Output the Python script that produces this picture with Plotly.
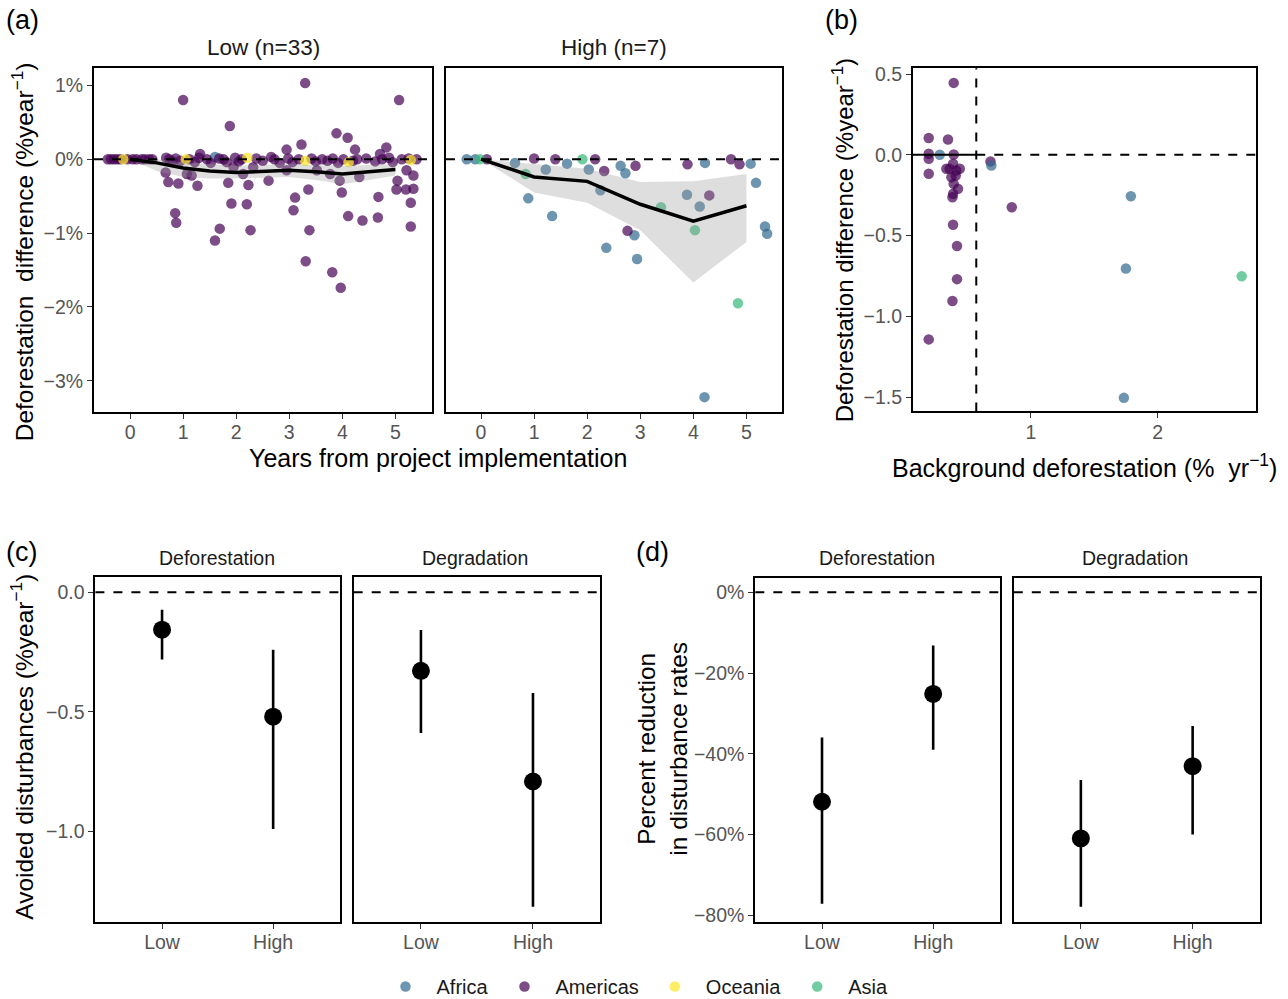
import numpy as np
import plotly.graph_objects as go

FONT = "Liberation Sans, Arial, sans-serif"
W, H = 1288, 999          # reference picture size
FIG_H = 1006              # page height that ends up in the 999-px photo

# ---- colours (viridis, 4 levels) ----
continents = ["Africa", "Americas", "Oceania", "Asia"]
colors = {"Africa": "#31688E", "Americas": "#440154", "Oceania": "#FDE725", "Asia": "#35B779"}

# ---- (a) Low (n=33): years from implementation vs deforestation difference (%/yr) ----
low_americas_x = [-0.42, -0.36, -0.30, -0.24, -0.18, -0.05, 0.05, 0.12, 0.22, 0.28, 0.36, 0.42,
                  0.68, 0.74, 0.80, 0.86, 0.95, 1.12, 1.22, 1.30, 1.45, 1.52, 1.68, 1.76, 1.82,
                  1.98, 2.05, 2.10, 2.38, 2.50, 2.66, 2.72, 2.82, 2.98, 3.06, 3.18, 3.42, 3.50,
                  3.62, 3.72, 3.82, 3.92, 4.02, 4.20, 4.28, 4.45, 4.62, 4.75, 4.88, 4.95, 5.12,
                  5.25, 5.40,
                  1.00, 1.88, 3.30, 5.07, 3.89, 4.10, 3.23, 2.95, 4.24, 4.83, 4.71, 1.32, 0.67,
                  0.72, 0.91, 0.85, 0.87, 1.07, 1.16, 1.27, 1.60, 1.69, 1.85, 1.91, 2.20, 2.23,
                  2.27, 2.13, 2.61, 3.11, 3.08, 3.36, 3.31, 3.38, 3.81, 3.97, 3.99, 4.11, 4.38,
                  4.68, 4.67, 5.04, 5.02, 5.20, 5.34, 5.34, 5.29, 5.29, 5.21, 3.95, 3.77, 4.32,
                  3.52, 2.95, 2.32, 1.95]
low_americas_y = [0.00, 0.00, 0.00, 0.00, 0.00, 0.00, 0.00, 0.00, 0.00, 0.00, 0.00, 0.00,
                  0.02, 0.00, -0.03, 0.01, -0.02, 0.00, -0.04, 0.02, 0.00, -0.05, 0.01, 0.00, -0.04,
                  0.02, -0.03, 0.00, 0.01, -0.02, 0.03, 0.00, -0.05, 0.01, -0.04, 0.00, 0.01, -0.03,
                  0.00, -0.02, 0.01, -0.05, 0.00, -0.02, 0.00, 0.01, -0.03, 0.00, 0.02, -0.04, 0.00,
                  0.01, 0.00,
                  0.80, 0.45, 1.03, 0.80, 0.35, 0.29, 0.20, 0.13, 0.13, 0.16, 0.07, 0.07, -0.18,
                  -0.31, -0.33, -0.73, -0.86, -0.20, -0.22, -0.36, -1.10, -0.94, -0.32, -0.60, -0.61, -0.35,
                  -0.96, -0.20, -0.29, -0.52, -0.69, -0.41, -1.38, -0.96, -1.53, -1.74, -0.45, -0.77, -0.83,
                  -0.51, -0.79, -0.29, -0.41, -0.41, -0.40, -0.22, -0.59, -0.91, -0.15, -0.29, -0.20, -0.24,
                  -0.15, -0.15, -0.11, -0.11]
low_oceania_x = [-0.13, 1.05, 2.21, 3.30, 4.12, 5.29]
low_oceania_y = [0.00, 0.00, 0.02, -0.02, -0.04, -0.01]
low_africa_x = [1.60]
low_africa_y = [0.03]

low_trend_x = [0, 0.5, 1, 1.5, 2, 2.5, 3, 3.5, 4, 4.5, 5]
low_trend_y = [0, -0.05, -0.12, -0.16, -0.18, -0.17, -0.15, -0.17, -0.20, -0.17, -0.14]
low_trend_lo = [0, -0.16, -0.24, -0.26, -0.26, -0.25, -0.24, -0.28, -0.34, -0.28, -0.22]
low_trend_hi = [0, 0.0, -0.04, -0.07, -0.09, -0.08, -0.07, -0.08, -0.09, -0.08, -0.07]

# ---- (a) High (n=7) ----
high_africa_x = [-0.27, -0.11, 0.64, 1.22, 0.89, 1.34, 1.62, 2.03, 2.25, 2.36, 2.63, 2.72, 2.89,
                 2.94, 3.88, 4.12, 4.22, 4.21, 5.08, 5.18, 5.35, 5.39]
high_africa_y = [0.00, 0.00, -0.05, -0.14, -0.53, -0.77, -0.06, -0.14, -0.42, -1.20, -0.09, -0.19,
                 -1.03, -1.35, -0.48, -0.64, -0.05, -3.22, -0.06, -0.32, -0.91, -1.01]
high_americas_x = [0.11, 1.00, 1.40, 2.15, 2.32, 2.91, 2.76, 3.89, 4.30, 4.71, 4.87]
high_americas_y = [0.00, 0.01, 0.00, 0.00, -0.16, -0.09, -0.97, -0.07, -0.49, 0.00, -0.07]
high_asia_x = [-0.02, 0.84, 1.91, 3.39, 4.03, 4.84]
high_asia_y = [0.00, -0.20, 0.00, -0.65, -0.96, -1.95]

high_trend_x = [0, 1, 2, 3, 4, 5]
high_trend_y = [0, -0.24, -0.30, -0.61, -0.84, -0.63]
high_trend_lo = [0, -0.45, -0.59, -0.96, -1.67, -1.12]
high_trend_hi = [0, -0.06, -0.13, -0.31, -0.30, -0.20]

a_yticks = [-3, -2, -1, 0, 1]
a_yticklabels = ["\u22123%", "\u22122%", "\u22121%", "0%", "1%"]
a_xticks = [0, 1, 2, 3, 4, 5]

# ---- (b) background deforestation vs deforestation difference ----
bg_americas_x = [0.392, 0.195, 0.347, 0.195, 0.195, 0.195, 0.392, 0.360, 0.387, 0.413, 0.440,
                 0.374, 0.408, 0.392, 0.426, 0.387, 0.382, 0.387, 0.418, 0.418, 0.382, 0.195,
                 0.850, 0.682, 0.334]
bg_americas_y = [0.445, 0.104, 0.095, 0.006, -0.025, -0.118, 0.002, -0.087, -0.056, -0.097, -0.087,
                 -0.139, -0.128, -0.180, -0.211, -0.242, -0.263, -0.433, -0.565, -0.770, -0.905, -1.143,
                 -0.325, -0.041, -0.087]
bg_africa_x = [0.282, 0.689, 1.789, 1.750, 1.734]
bg_africa_y = [0.000, -0.066, -0.257, -0.704, -1.505]
bg_asia_x = [2.663]
bg_asia_y = [-0.752]
bg_threshold = 0.57
bg_xrange = [0.071, 2.776]

# ---- (c) avoided disturbances and (d) percent reduction ----
groups = ["Low", "High"]
c_def = [-0.156, -0.52]
c_def_lo = [-0.281, -0.99]
c_def_hi = [-0.073, -0.24]
c_deg = [-0.328, -0.791]
c_deg_lo = [-0.588, -1.315]
c_deg_hi = [-0.157, -0.421]
d_def = [-51.9, -25.2]
d_def_lo = [-77.2, -39.0]
d_def_hi = [-36.0, -13.2]
d_deg = [-61.0, -43.1]
d_deg_lo = [-77.9, -60.0]
d_deg_hi = [-46.5, -33.1]
d_yticks = [-80, -60, -40, -20, 0]
d_yticklabels = ["\u221280%", "\u221260%", "\u221240%", "\u221220%", "0%"]


def px(x0, x1):
    return [x0 / W, x1 / W]


def py(y0, y1):
    return [1 - y1 / H, 1 - y0 / H]


fig = go.Figure()
shown = set()


def pts(x, y, cont, ax):
    first = cont not in shown
    shown.add(cont)
    fig.add_trace(go.Scatter(
        x=x, y=y, mode="markers", name=cont, legendgroup=cont, showlegend=first,
        legendrank=continents.index(cont) + 1,
        marker=dict(color=colors[cont], size=10.5, opacity=0.7, line=dict(width=0)),
        xaxis="x" + ax, yaxis="y" + ax, hoverinfo="skip"))


def ribbon(x, lo, hi, mid, ax):
    fig.add_trace(go.Scatter(x=x, y=lo, mode="lines", line=dict(width=0), showlegend=False,
                             xaxis="x" + ax, yaxis="y" + ax, hoverinfo="skip"))
    fig.add_trace(go.Scatter(x=x, y=hi, mode="lines", line=dict(width=0), fill="tonexty",
                             fillcolor="rgba(153,153,153,0.32)", showlegend=False,
                             xaxis="x" + ax, yaxis="y" + ax, hoverinfo="skip"))
    fig.add_trace(go.Scatter(x=x, y=mid, mode="lines", line=dict(color="black", width=3.5),
                             showlegend=False, xaxis="x" + ax, yaxis="y" + ax, hoverinfo="skip"))


# (a) left
pts(low_africa_x, low_africa_y, "Africa", "")
pts(low_americas_x, low_americas_y, "Americas", "")
pts(low_oceania_x, low_oceania_y, "Oceania", "")
ribbon(low_trend_x, low_trend_lo, low_trend_hi, low_trend_y, "")
# (a) right
pts(high_africa_x, high_africa_y, "Africa", "2")
pts(high_americas_x, high_americas_y, "Americas", "2")
pts(high_asia_x, high_asia_y, "Asia", "2")
ribbon(high_trend_x, high_trend_lo, high_trend_hi, high_trend_y, "2")
# (b)
pts(bg_americas_x, bg_americas_y, "Americas", "3")
pts(bg_africa_x, bg_africa_y, "Africa", "3")
pts(bg_asia_x, bg_asia_y, "Asia", "3")


def pointrange(mean, lo, hi, ax):
    mean = np.array(mean)
    fig.add_trace(go.Scatter(
        x=groups, y=mean, mode="markers", showlegend=False,
        marker=dict(color="black", size=18),
        error_y=dict(type="data", symmetric=False, array=np.array(hi) - mean,
                     arrayminus=mean - np.array(lo), color="black", thickness=2.6, width=0),
        xaxis="x" + ax, yaxis="y" + ax, hoverinfo="skip"))


pointrange(c_def, c_def_lo, c_def_hi, "4")
pointrange(c_deg, c_deg_lo, c_deg_hi, "5")
pointrange(d_def, d_def_lo, d_def_hi, "6")
pointrange(d_deg, d_deg_lo, d_deg_hi, "7")

tickfont = dict(family=FONT, size=19.5, color="#555555")
base = dict(showline=True, mirror=True, linecolor="black", linewidth=2, showgrid=False,
            zeroline=False, ticks="outside", ticklen=5, tickwidth=1, tickcolor="#333333",
            tickfont=tickfont, automargin=False, fixedrange=True)
xbase = dict(base, ticklabelstandoff=-3)

fig.update_layout(
    xaxis=dict(xbase, domain=px(94, 432), anchor="y", tickvals=a_xticks, range=[-0.68, 5.69]),
    yaxis=dict(base, domain=py(67.5, 411.5), anchor="x", tickvals=a_yticks, ticktext=a_yticklabels,
               range=[-3.42, 1.24]),
    xaxis2=dict(xbase, domain=px(446, 782), anchor="y2", tickvals=a_xticks, range=[-0.66, 5.67]),
    yaxis2=dict(base, domain=py(67.5, 411.5), anchor="x2", range=[-3.42, 1.24],
                showticklabels=False, ticks=""),
    xaxis3=dict(xbase, domain=px(913, 1256), anchor="y3", tickvals=[1, 2], range=bg_xrange),
    yaxis3=dict(base, domain=py(68.3, 411), anchor="x3", tickvals=[-1.5, -1, -0.5, 0, 0.5],
                tickformat=".1f", range=[-1.589, 0.535]),
    xaxis4=dict(xbase, domain=px(95.4, 339.8), anchor="y4", type="category", range=[-0.6, 1.6]),
    yaxis4=dict(base, domain=py(576.7, 920.7), anchor="x4", tickvals=[-1, -0.5, 0],
                tickformat=".1f", range=[-1.377, 0.063]),
    xaxis5=dict(xbase, domain=px(353.7, 600.2), anchor="y5", type="category", range=[-0.6, 1.6]),
    yaxis5=dict(base, domain=py(576.7, 920.7), anchor="x5", range=[-1.377, 0.063],
                showticklabels=False, ticks=""),
    xaxis6=dict(xbase, domain=px(755.3, 999.9), anchor="y6", type="category", range=[-0.6, 1.6]),
    yaxis6=dict(base, domain=py(577.7, 920.7), anchor="x6", tickvals=d_yticks, ticktext=d_yticklabels,
                range=[-81.6, 3.47]),
    xaxis7=dict(xbase, domain=px(1013.8, 1259.7), anchor="y7", type="category", range=[-0.6, 1.6]),
    yaxis7=dict(base, domain=py(577.7, 920.7), anchor="x7", range=[-81.6, 3.47],
                showticklabels=False, ticks=""),
)

# reference lines (drawn over the points, as in the original)
dash = dict(color="black", width=2, dash="dash")
for ax in ["", "2", "4", "5", "6", "7"]:
    fig.add_shape(type="line", xref=("x" + ax + " domain"), yref=("y" + ax), x0=0, x1=1, y0=0, y1=0,
                  line=dash, layer="above")
# (b): solid below the threshold, dashed above it
fig.add_shape(type="line", xref="x3", yref="y3", x0=bg_xrange[0], x1=bg_threshold, y0=0, y1=0,
              line=dict(color="black", width=2), layer="above")
fig.add_shape(type="line", xref="x3", yref="y3", x0=bg_threshold, x1=bg_xrange[1], y0=0, y1=0,
              line=dash, layer="above")
fig.add_shape(type="line", xref="x3", yref="y3 domain", x0=bg_threshold, x1=bg_threshold, y0=0, y1=1,
              line=dash, layer="above")


def label(x, y, text, size, color="black", angle=0):
    fig.add_annotation(x=x / W, y=1 - y / H, xref="paper", yref="paper", text=text, showarrow=False,
                       textangle=angle, xanchor="center", yanchor="middle",
                       font=dict(family=FONT, size=size, color=color))


# panel tags
label(22, 20, "(a)", 27)
label(841, 20, "(b)", 27)
label(21, 551, "(c)", 27)
label(652, 551, "(d)", 27)
# strip titles
label(263, 47, "Low (n=33)", 22.5, "#1a1a1a")
label(614, 47, "High (n=7)", 22.5, "#1a1a1a")
label(217, 557, "Deforestation", 19.5, "#1a1a1a")
label(475, 557, "Degradation", 19.5, "#1a1a1a")
label(877, 557, "Deforestation", 19.5, "#1a1a1a")
label(1135, 557, "Degradation", 19.5, "#1a1a1a")
# axis titles
label(438, 458, "Years from project implementation", 25)
label(22, 252, "Deforestation  difference (%year<sup>\u22121</sup>)", 24.5, angle=-90)
label(1084, 466, "Background deforestation (%  yr<sup>\u22121</sup>)", 25)
label(843, 240, "Deforestation difference (%year<sup>\u22121</sup>)", 24, angle=-90)
label(22, 746, "Avoided disturbances (%year<sup>\u22121</sup>)", 24.5, angle=-90)
label(663, 748, "Percent reduction<br>in disturbance rates", 24.5, angle=-90)

fig.update_layout(
    width=W, height=FIG_H, autosize=False,
    margin=dict(l=0, r=0, t=0, b=0),
    plot_bgcolor="white", paper_bgcolor="white",
    font=dict(family=FONT, color="black"),
    legend=dict(orientation="h", x=634 / W, xanchor="center", y=1 - 986 / H, yanchor="middle",
                font=dict(family=FONT, size=20, color="#1a1a1a"), bgcolor="rgba(0,0,0,0)",
                itemwidth=52),
)

fig.write_html("out.html", config={"displayModeBar": False},
               post_script="document.body.style.margin='0px';")
